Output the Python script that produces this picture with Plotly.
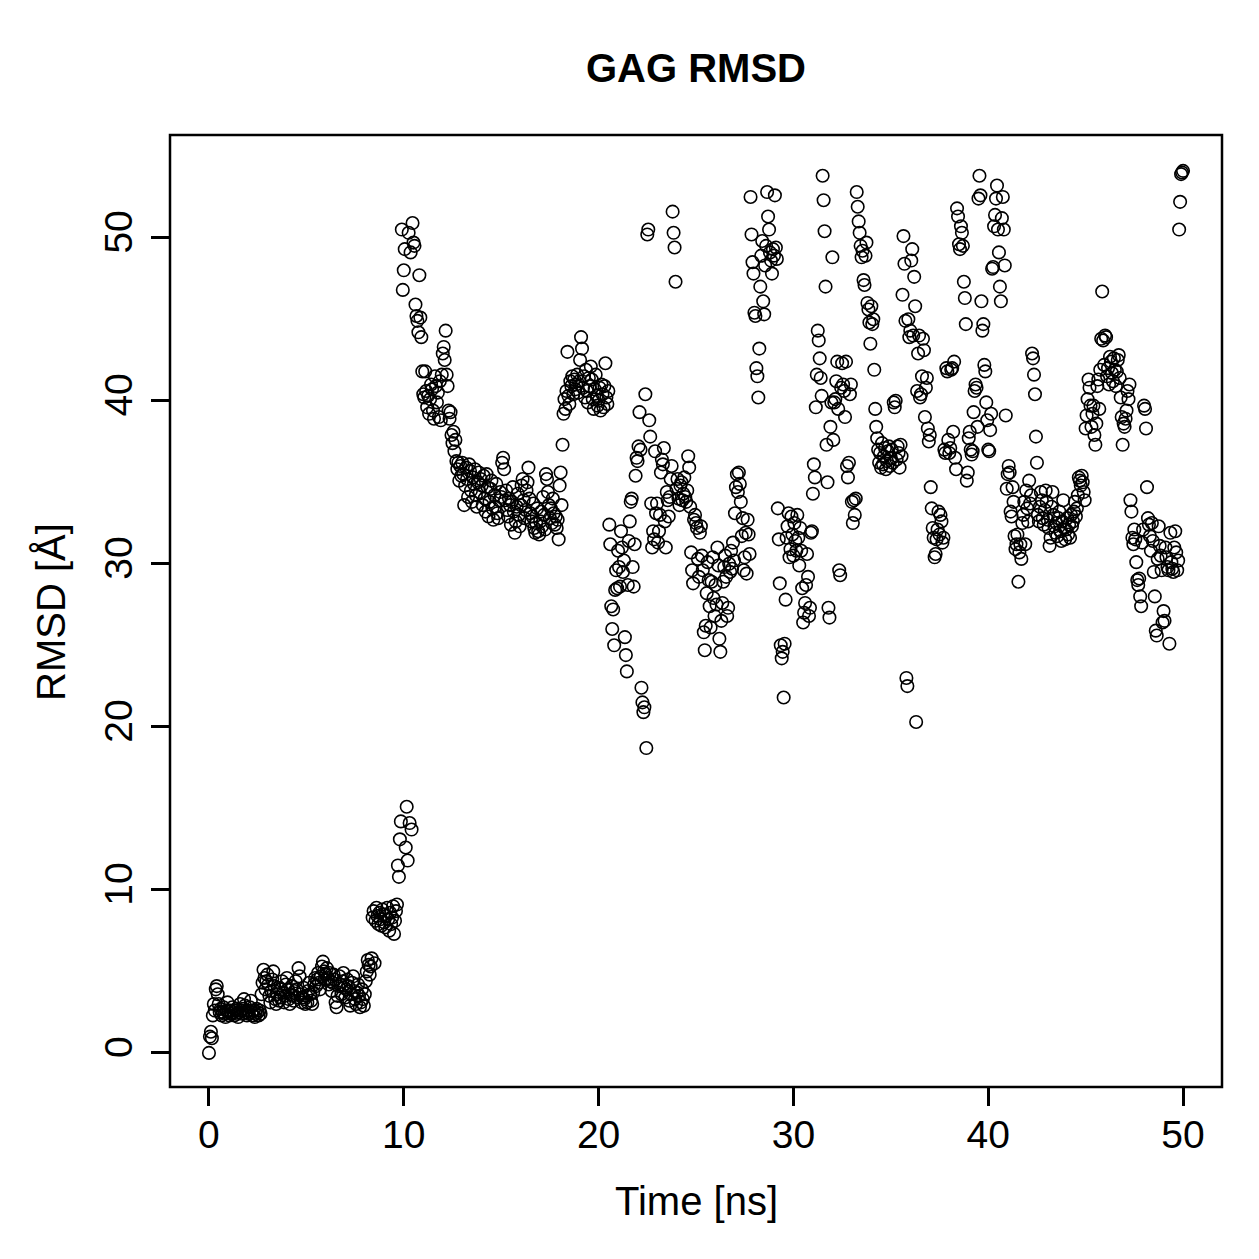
import numpy as np
import plotly.graph_objects as go

# RMSD values (Å), one frame every 0.05 ns, grouped by 10 ns blocks
rmsd_00_10 = [
    0.0, 1.0, 1.3, 0.9, 2.3, 3.0, 2.6, 3.9, 4.1, 3.6, 3.0, 2.5, 2.7, 2.3, 2.5, 2.8, 2.4, 2.2, 2.6, 3.1,
    2.5, 2.3, 2.6, 2.4, 2.8, 2.5, 2.3, 2.6, 2.7, 2.4, 2.2, 2.5, 3.0, 2.6, 2.4, 2.7, 3.3, 2.9, 2.5, 2.3,
    2.6, 2.4, 2.8, 3.2, 2.5, 2.3, 2.6, 2.2, 2.4, 2.7, 2.5, 2.3, 2.6, 2.4, 3.6, 4.3, 5.1, 4.6, 3.9, 4.4,
    4.8, 4.2, 3.5, 3.1, 3.8, 4.5, 5.0, 4.1, 3.3, 3.0, 3.6, 4.0, 3.2, 3.4, 3.9, 4.4, 3.7, 3.1, 3.5, 4.2,
    4.6, 3.9, 3.3, 3.0, 3.6, 4.1, 3.5, 3.2, 3.8, 4.4, 3.9, 3.4, 5.2, 4.7, 3.6, 3.1, 3.4, 4.0, 3.3, 3.0,
    3.5, 3.1, 3.8, 4.3, 3.6, 3.2, 3.0, 3.7, 4.2, 4.6, 4.1, 4.5, 4.9, 4.3, 3.9, 4.7, 5.3, 5.6, 5.0, 4.5,
    4.8, 5.2, 4.6, 4.2, 4.9, 4.4, 3.8, 4.3, 4.8, 4.5, 3.1, 2.8, 3.5, 4.1, 4.7, 4.2, 3.6, 4.4, 4.9, 4.0,
    3.4, 3.9, 4.5, 4.1, 3.2, 2.9, 3.6, 4.3, 4.7, 3.8, 3.3, 3.0, 3.7, 4.2, 3.5, 2.8, 3.1, 3.9, 3.3, 2.9,
    3.6, 4.4, 5.0, 5.7, 5.4, 4.8, 5.3, 5.8, 8.3, 8.7, 5.5, 8.1, 8.9, 8.4, 7.9, 8.6, 8.2, 7.8, 8.8, 8.5,
    8.0, 7.7, 8.4, 8.9, 8.2, 7.5, 8.6, 7.9, 8.3, 9.0, 7.3, 8.1, 8.7, 9.1, 11.5, 10.8, 13.1, 14.2, 50.5, 46.8,
]
rmsd_10_20 = [
    48.0, 49.3, 12.6, 15.1, 11.8, 50.3, 14.1, 49.1, 13.7, 50.9, 49.7, 49.5, 45.9, 45.2, 44.9, 44.2, 47.7, 45.1, 43.9, 41.8,
    40.4, 40.2, 41.8, 40.6, 39.6, 40.3, 39.2, 40.1, 41.0, 40.7, 39.4, 38.9, 41.5, 40.9, 39.9, 40.5, 39.0, 41.2, 38.8, 41.6,
    42.9, 43.3, 42.5, 44.3, 41.6, 40.9, 39.4, 38.9, 39.3, 37.9, 37.4, 38.1, 36.9, 37.6, 36.3, 35.8, 36.2, 35.1, 36.0, 35.4,
    36.2, 35.5, 33.6, 34.8, 35.9, 35.2, 34.1, 36.1, 35.7, 34.5, 33.8, 35.3, 34.9, 35.8, 34.2, 33.5, 35.0, 35.6, 34.4, 35.2,
    34.8, 33.6, 35.4, 34.0, 33.2, 35.5, 34.7, 32.9, 33.8, 34.6, 35.1, 33.4, 32.7, 34.2, 33.5, 34.9, 33.1, 32.8, 33.9, 34.4,
    34.1, 36.2, 36.5, 35.8, 33.9, 34.5, 33.3, 32.9, 34.0, 33.6, 32.4, 33.8, 34.7, 33.2, 31.9, 32.6, 33.5, 34.3, 33.0, 32.3,
    33.6, 34.8, 35.2, 33.9, 32.8, 33.3, 34.5, 35.0, 35.9, 34.0, 33.1, 32.6, 32.9, 33.7, 32.2, 31.9, 32.5, 33.4, 32.0, 31.8,
    32.6, 33.2, 32.3, 34.1, 33.0, 32.1, 35.5, 35.2, 34.4, 33.6, 32.8, 33.4, 32.5, 34.0, 33.1, 32.4, 32.9, 32.2, 32.7, 31.5,
    34.8, 35.6, 33.6, 37.3, 39.2, 40.1, 39.5, 40.6, 43.0, 40.3, 39.8, 41.2, 40.9, 41.5, 40.4, 41.3, 40.7, 41.0, 41.6, 40.5,
    41.2, 42.5, 43.9, 43.2, 40.8, 41.5, 40.2, 41.9, 40.6, 39.9, 41.4, 40.9, 42.1, 41.3, 40.1, 39.5, 40.7, 41.6, 40.3, 39.7,
]
rmsd_20_30 = [
    40.0, 40.8, 39.4, 41.0, 40.4, 39.6, 40.9, 42.3, 40.2, 39.8, 40.6, 32.4, 31.2, 27.4, 26.0, 27.2, 25.0, 28.4, 29.6, 28.5,
    30.8, 29.8, 28.6, 32.0, 31.0, 29.5, 30.2, 25.5, 24.4, 23.4, 28.7, 31.4, 32.6, 33.8, 34.0, 29.8, 28.6, 31.2, 35.4, 36.5,
    36.3, 37.2, 39.3, 37.0, 22.4, 21.5, 20.9, 21.2, 40.4, 18.7, 50.2, 50.5, 38.8, 37.8, 33.7, 31.0, 32.0, 31.5, 36.9, 33.1,
    33.7, 31.3, 32.0, 33.0, 35.6, 36.4, 36.1, 37.1, 32.6, 31.0, 34.4, 33.9, 32.9, 34.1, 35.2, 36.0, 51.6, 50.3, 49.4, 47.3,
    34.6, 35.2, 34.0, 33.6, 34.8, 35.0, 33.9, 34.3, 35.3, 34.1, 33.8, 34.5, 36.6, 35.9, 33.5, 30.7, 29.6, 28.8, 32.7, 33.0,
    32.5, 32.2, 30.3, 29.2, 31.9, 32.3, 30.5, 29.6, 25.8, 24.7, 26.2, 28.2, 30.1, 29.0, 27.4, 26.1, 28.9, 30.4, 27.9, 26.8,
    28.7, 27.5, 31.0, 29.9, 25.4, 24.6, 26.5, 27.6, 28.9, 29.8, 30.5, 29.2, 26.8, 27.3, 30.0, 29.5, 30.8, 29.7, 31.3, 30.2,
    33.1, 34.7, 35.5, 34.4, 35.6, 34.9, 33.8, 31.7, 32.8, 29.6, 30.4, 31.9, 29.4, 32.7, 31.8, 30.6, 52.5, 50.2, 48.5, 47.8,
    45.4, 45.2, 42.0, 41.5, 40.2, 43.2, 47.0, 48.9, 49.8, 46.1, 45.3, 48.3, 49.5, 52.8, 51.3, 50.5, 49.1, 48.6, 47.8, 49.3,
    48.9, 52.6, 49.4, 48.7, 33.4, 31.5, 28.8, 25.0, 24.2, 24.6, 21.8, 25.1, 27.8, 31.6, 32.3, 33.1, 30.4, 30.9, 32.9, 31.8,
]
rmsd_30_40 = [
    30.5, 32.5, 31.4, 30.8, 33.0, 31.6, 29.9, 32.2, 30.8, 28.5, 26.4, 27.0, 27.6, 28.7, 30.6, 29.2, 26.8, 27.3, 31.9, 32.0,
    34.3, 36.1, 35.3, 39.6, 41.6, 44.3, 43.7, 42.6, 41.4, 40.3, 53.8, 52.3, 50.4, 47.0, 37.3, 35.0, 27.3, 26.7, 38.4, 39.9,
    48.8, 37.6, 39.9, 40.1, 41.2, 42.4, 39.5, 29.6, 29.3, 40.8, 42.3, 41.0, 40.6, 39.0, 42.4, 36.0, 35.3, 36.2, 40.4, 41.0,
    33.8, 32.5, 33.9, 33.0, 34.0, 52.8, 51.9, 51.0, 50.3, 49.5, 48.8, 49.2, 47.4, 47.1, 48.9, 49.7, 46.0, 45.6, 44.8, 43.5,
    45.8, 44.7, 45.0, 41.9, 39.5, 38.4, 37.7, 37.0, 36.2, 36.8, 35.9, 37.4, 36.1, 36.6, 37.1, 35.8, 36.3, 36.9, 37.2, 36.0,
    36.5, 37.0, 36.2, 39.9, 39.6, 40.0, 36.4, 37.2, 36.8, 35.9, 37.3, 36.6, 46.5, 50.1, 48.4, 44.9, 23.0, 22.5, 45.0, 43.9,
    44.3, 48.6, 49.3, 44.0, 47.6, 45.8, 20.3, 40.6, 42.9, 44.0, 40.2, 40.4, 41.5, 43.8, 43.1, 39.0, 40.8, 41.4, 38.3, 37.5,
    37.9, 34.7, 33.4, 32.2, 31.6, 30.4, 30.6, 31.5, 32.1, 33.2, 31.8, 33.0, 32.6, 31.3, 31.6, 37.0, 36.8, 42.0, 41.8, 37.6,
    36.8, 37.1, 41.9, 42.0, 38.1, 42.4, 36.5, 35.8, 51.8, 51.3, 49.6, 49.3, 50.7, 50.3, 49.5, 47.3, 46.3, 44.7, 35.1, 35.6,
    37.7, 38.1, 37.0, 36.7, 36.9, 39.3, 40.6, 41.0, 40.8, 38.4, 52.4, 53.8, 52.6, 46.1, 44.3, 44.7, 42.2, 41.8, 39.9, 38.8,
]
rmsd_40_50 = [
    37.0, 36.9, 38.2, 39.2, 48.1, 48.2, 50.7, 51.4, 52.4, 53.2, 50.5, 49.1, 47.0, 46.1, 51.2, 52.5, 50.5, 48.3, 39.1, 34.6,
    35.5, 36.0, 35.6, 33.2, 32.9, 34.7, 33.8, 31.7, 30.9, 31.2, 31.8, 28.9, 30.7, 31.2, 30.3, 32.5, 33.0, 33.8, 31.2, 34.5,
    33.4, 32.6, 35.1, 33.7, 34.2, 42.9, 42.6, 41.6, 40.4, 37.8, 36.2, 33.0, 32.6, 33.5, 34.4, 33.9, 32.8, 32.4, 33.3, 34.5,
    33.8, 32.7, 32.2, 31.1, 31.6, 33.5, 34.4, 33.0, 32.3, 31.9, 32.5, 31.7, 32.8, 33.2, 32.0, 31.4, 32.6, 33.9, 32.2, 31.5,
    32.1, 32.8, 31.8, 32.4, 31.6, 33.0, 32.3, 32.6, 33.2, 33.8, 32.9, 33.4, 34.2, 35.3, 35.1, 34.8, 35.4, 35.0, 34.4, 33.9,
    38.3, 39.1, 40.1, 41.3, 40.8, 39.7, 38.4, 39.2, 39.7, 37.9, 37.3, 38.6, 40.9, 41.3, 39.5, 41.9, 43.8, 46.7, 43.7, 42.2,
    44.0, 43.9, 41.5, 42.0, 41.0, 42.7, 42.4, 41.7, 41.2, 42.6, 41.9, 40.9, 41.8, 42.5, 42.8, 41.4, 40.2, 39.0, 37.3, 38.6,
    38.4, 38.9, 39.4, 40.6, 40.1, 41.0, 33.9, 33.2, 31.6, 31.2, 32.1, 31.5, 30.1, 29.0, 28.7, 29.1, 28.0, 27.4, 31.3, 32.1,
    39.7, 39.5, 38.3, 34.7, 32.8, 32.4, 31.7, 30.8, 32.5, 31.4, 29.5, 28.0, 25.9, 25.6, 30.3, 32.3, 31.1, 30.5, 29.6, 26.4,
    27.1, 26.5, 31.0, 30.4, 29.8, 29.6, 25.1, 31.9, 30.1, 29.7, 29.5, 31.0, 32.0, 30.7, 29.6, 30.2, 50.5, 52.2, 53.9, 54.0,
    54.1,
]

x_ticks = [0, 10, 20, 30, 40, 50]
y_ticks = [0, 10, 20, 30, 40, 50]
frame_step_ns = 0.05

rmsd = rmsd_00_10 + rmsd_10_20 + rmsd_20_30 + rmsd_30_40 + rmsd_40_50
time_ns = np.arange(len(rmsd)) * frame_step_ns

W = H = 1259
L, R, T, B = 170, 1222, 135, 1087
FONT = "Liberation Sans, Arial, Helvetica, sans-serif"
FS = 39

fig = go.Figure()
fig.add_trace(go.Scatter(
    x=time_ns, y=rmsd, mode="markers",
    marker=dict(symbol="circle-open", size=12.5, color="black", line=dict(width=1.6, color="black")),
    showlegend=False, hoverinfo="skip",
))

fig.update_layout(
    width=W, height=H,
    margin=dict(l=L, r=W - R, t=T, b=H - B, pad=0),
    paper_bgcolor="white", plot_bgcolor="white",
    font=dict(family=FONT, size=FS, color="black"),
    title=dict(text="<b>GAG RMSD</b>", x=((L + R) / 2) / W, xanchor="center",
               y=1 - 68 / H, yanchor="middle", font=dict(size=40)),
    xaxis=dict(range=[-2, 52], tickvals=x_ticks, ticktext=[str(v) for v in x_ticks],
               ticks="outside", ticklen=18, tickwidth=2.5, tickcolor="black",
               showgrid=False, zeroline=False, showline=False,
               ticklabelstandoff=-5, tickfont=dict(size=FS)),
    yaxis=dict(range=[-2.09, 56.3], tickvals=y_ticks, ticktext=[str(v) for v in y_ticks],
               ticks="outside", ticklen=18, tickwidth=2.5, tickcolor="black",
               showgrid=False, zeroline=False, showline=False, tickangle=-90,
               ticklabelstandoff=3, tickfont=dict(size=FS)),
    shapes=[dict(type="rect", xref="paper", yref="paper", x0=0, x1=1, y0=0, y1=1,
                 line=dict(color="black", width=2.5), fillcolor="rgba(0,0,0,0)", layer="above")],
    annotations=[
        dict(text="Time [ns]", xref="paper", yref="paper", x=0.5, y=(B - 1201) / (B - T),
             xanchor="center", yanchor="middle", showarrow=False, font=dict(size=40)),
        dict(text="RMSD [Å]", xref="paper", yref="paper", x=(51 - L) / (R - L), y=(B - 612) / (B - T),
             xanchor="center", yanchor="middle", textangle=-90, showarrow=False, font=dict(size=40)),
    ],
)

fig.write_html("out.html")
